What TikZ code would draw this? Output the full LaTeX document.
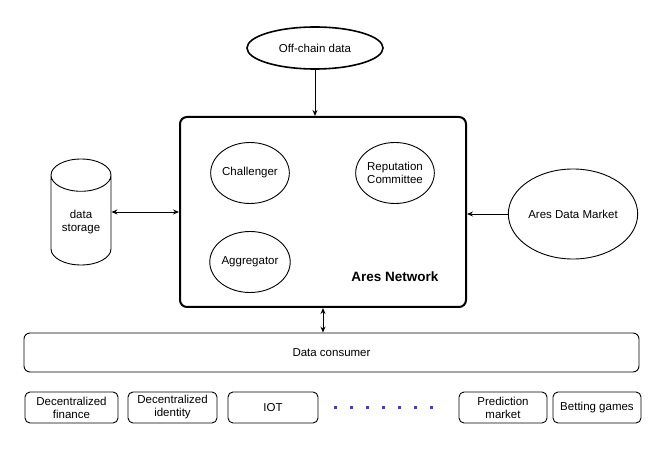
\documentclass[tikz,border=0pt]{standalone}
\usepackage{fontspec}
\setmainfont{Liberation Sans}
\usepackage{tikz}
\usetikzlibrary{positioning,shapes.geometric,arrows.meta}

\definecolor{dotblue}{RGB}{70,60,190}

\begin{document}
\begin{tikzpicture}[x=1pt,y=-1pt,node distance=2cm,on grid,line width=0.9pt,
    >={Stealth[length=6pt,width=5pt]},
    every node/.style={font=\fontsize{11.5}{13}\selectfont,align=center,inner sep=1pt},
    unit/.style={ellipse,draw,minimum width=70pt,minimum height=61pt,inner sep=0pt},
    app/.style={rectangle,draw,rounded corners=5pt,minimum width=90pt,minimum height=31pt},
    dot/.style={rectangle,fill=dotblue,minimum size=3pt,inner sep=0pt}]
            \useasboundingbox (0,0) rectangle (672,462);
            \node[draw,line width=2pt,rounded corners=7pt,minimum width=286pt,minimum height=190pt] (net) at (323,212) {};
            \node[unit] (chal) at (250,173) {Challenger};
            \node[unit] (rep) [right=145pt of chal] {Reputation\\Committee};
            \node[unit] (agg) [below=89pt of chal] {Aggregator};
            \node[font=\fontsize{13.5}{16}\selectfont\bfseries] (net_lbl) [below=104pt of rep] {Ares Network};
            \node[ellipse,draw,line width=1.6pt,minimum width=136pt,minimum height=42pt] (offchain) at (315,48) {Off-chain data};
            \node[cylinder,draw,shape border rotate=90,aspect=0.8,anchor=shape center,minimum width=60pt,minimum height=106pt] (storage) at (81,212) {data\\storage};
            \node[ellipse,draw,minimum width=126pt,minimum height=90pt] (market) at (573,214) {Ares Data Market};
            \node[draw,rounded corners=6pt,minimum width=615pt,minimum height=39pt] (consumer) at (331.5,352.5) {Data consumer};

            \node[app,minimum width=93pt] (finance) at (71.5,407.5) {Decentralized\\finance};
            \node[app,minimum width=89pt] (identity) [right=101pt of finance] {Decentralized\\identity};
            \node[app] (iot) [right=100.5pt of identity] {IOT};
            \node[app,minimum width=88pt] (predict) [right=230pt of iot] {Prediction\\market};
            \node[app,minimum width=88pt] (betting) [right=94pt of predict] {Betting games};
            \foreach \i in {0,...,6}
                \node[dot] (dot\i) at (335+16*\i,407) {};

            \draw[->] (offchain.south) -- (offchain.south |- net.north);
            \draw[<->] (storage.shape center -| storage.east) -- (storage.shape center -| net.west);
            \draw[->] (market.west) -- (market.west -| net.east);
            \draw[<->] (net.south) -- (net.south |- consumer.north);
        \end{tikzpicture}
\end{document}
